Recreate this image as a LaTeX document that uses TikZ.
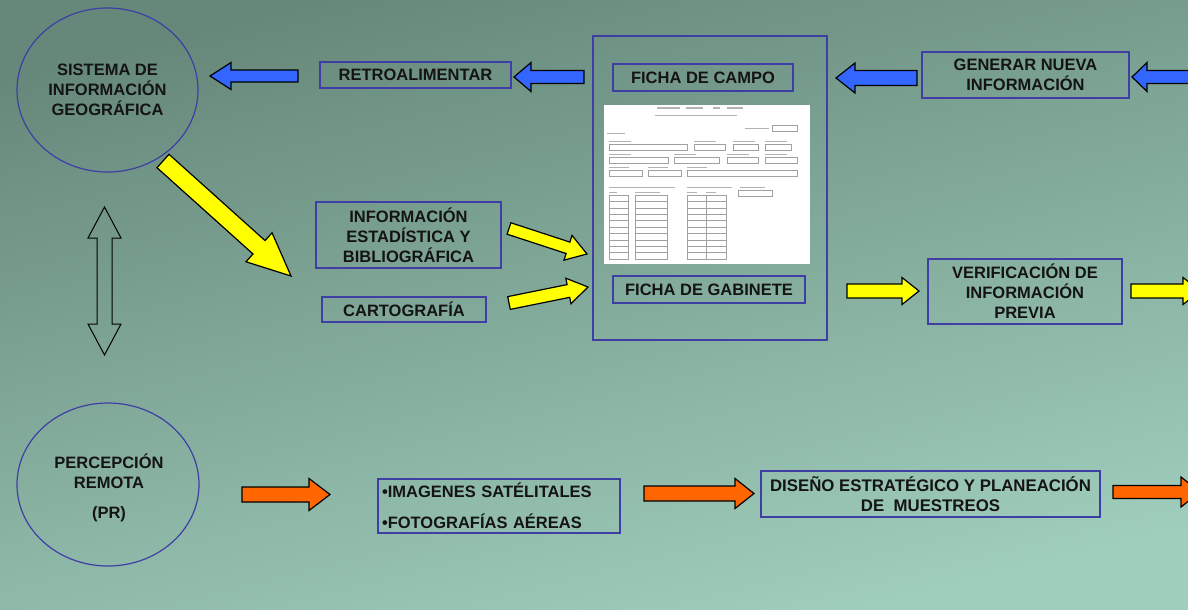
\documentclass[tikz,border=0pt]{standalone}
\usepackage{fontspec}
\setmainfont{Liberation Sans}
\usetikzlibrary{calc,shapes.geometric}
\definecolor{bgtop}{RGB}{102,136,122}
\definecolor{bgbot}{RGB}{160,206,188}
\definecolor{boxblue}{RGB}{62,62,165}
\definecolor{arrblue}{RGB}{51,102,255}
\definecolor{arryel}{RGB}{255,255,0}
\definecolor{arrora}{RGB}{255,102,0}
\definecolor{txt}{RGB}{20,20,20}
\definecolor{formline}{RGB}{160,160,160}
% #1 tail coordinate, #2 tip coordinate, #3 shaft half width, #4 head half width, #5 head length, #6 style
\newcommand\blockarrow[6]{%
  \draw[#6] let \p1=(#1), \p2=(#2), \n1={atan2(\y2-\y1,\x2-\x1)}, \n2={veclen(\x2-\x1,\y2-\y1)} in
   [shift={(\p1)}, rotate=\n1] (0,#3) -- (\n2-#5,#3) -- (\n2-#5,#4) -- (\n2,0) -- (\n2-#5,-#4) -- (\n2-#5,-#3) -- (0,-#3) -- cycle;}
\begin{document}
\begin{tikzpicture}[x=1pt,y=-1pt,
  lbl/.style={text=txt, font=\bfseries\fontsize{16.5}{20}\selectfont},
  box/.style={lbl, draw=boxblue, line width=1.4pt, inner sep=0pt, align=center},
  circ/.style={lbl, ellipse, draw=boxblue, line width=1.2pt, inner sep=0pt, align=center},
  arrbase/.style={draw=black, line width=1.2pt, line join=miter},
  bluearr/.style={arrbase, fill=arrblue},
  yelarr/.style={arrbase, fill=arryel},
  orarr/.style={arrbase, fill=arrora},
  formbox/.style={draw=formline, line width=0.5pt},
  formtext/.style={draw=formline!80, line width=1.2pt}
]
\clip (0,0) rectangle (1188,610);
\shade[top color=bgtop, bottom color=bgbot, shading angle=14] (0,0) rectangle (1188,610);

% circles
\node[circ, minimum width=181pt, minimum height=164pt] (sig) at (107.5,90) {SISTEMA DE\\INFORMACIÓN\\GEOGRÁFICA};
\node[circ, minimum width=182pt, minimum height=163pt] (pr) at (108,484.5) {};
\node[lbl, align=center] (prtext) at ($(pr.center)+(1,3)$) {PERCEPCIÓN\\REMOTA\\[10pt](PR)};

% top row boxes
\node[box, minimum width=191pt, minimum height=26pt] (retro) at (415.5,75) {RETROALIMENTAR};
\node[draw=boxblue, line width=1.4pt, minimum width=234pt, minimum height=304pt, inner sep=0pt] (ficha) at (710,188) {};
\node[box, minimum width=180pt, minimum height=27pt] (campo) at (703,77.5) {FICHA DE CAMPO};
\node[box, minimum width=192pt, minimum height=27pt] (gabinete) at (709,289.5) {FICHA DE GABINETE};
\node[box, minimum width=207pt, minimum height=46pt] (generar) at (1025.5,75) {GENERAR NUEVA\\INFORMACIÓN};
\node[box, minimum width=185pt, minimum height=66pt] (info) at (408.5,235) {INFORMACIÓN\\ESTADÍSTICA Y\\BIBLIOGRÁFICA};
\node[box, minimum width=164pt, minimum height=25pt] (carto) at (404,309.5) {CARTOGRAFÍA};
\node[box, minimum width=194pt, minimum height=65pt] (verif) at (1025,291.5) {VERIFICACIÓN DE\\INFORMACIÓN\\PREVIA};
\node[box, minimum width=242pt, minimum height=54pt, text width=234pt, align=left,
      font=\bfseries\fontsize{16.5}{31}\selectfont] (imag) at (499,506) {•IMAGENES SATÉLITALES\\•FOTOGRAFÍAS AÉREAS};
\node[box, minimum width=339pt, minimum height=46pt, font=\bfseries\fontsize{16.8}{20}\selectfont] (diseno) at (930.5,494) {DISEÑO ESTRATÉGICO Y PLANEACIÓN\\DE\ \ MUESTREOS};

% form picture
\node[fill=white, minimum width=206pt, minimum height=159pt, inner sep=0pt] (form) at (707,184.5) {};
\begin{scope}
  \foreach \a/\b in {657/680,686/703,713/720,727/743}{\draw[formtext] (\a,108) -- (\b,108);}
  \draw[formtext, line width=0.9pt] (655,115) -- (737,115);
  \draw[formtext, line width=0.7pt] (745,128) -- (769,128);
  \draw[formbox] (772,125) rectangle (797,131);
  \draw[formtext, line width=0.7pt] (607,133) -- (625,133);
  % row 1
  \foreach \a/\b in {609/687,694/725,733/758,765/791}{
    \draw[formtext, line width=0.6pt] (\a,141) -- (\a+22,141);
    \draw[formbox] (\a,144) rectangle (\b,150);}
  % row 2
  \foreach \a/\b in {609/668,674/719,727/758,765/797}{
    \draw[formtext, line width=0.6pt] (\a,154) -- (\a+22,154);
    \draw[formbox] (\a,157) rectangle (\b,163);}
  % row 3
  \foreach \a/\b in {609/642,648/681,687/797}{
    \draw[formtext, line width=0.6pt] (\a,167) -- (\a+20,167);
    \draw[formbox] (\a,170) rectangle (\b,176);}
  % table labels
  \draw[formtext, line width=0.6pt] (609,187) -- (675,187);
  \draw[formtext, line width=0.6pt] (687,187) -- (732,187);
  \draw[formtext, line width=0.6pt] (740,187) -- (765,187);
  \draw[formtext, line width=0.6pt] (609,192) -- (617,192);
  \draw[formtext, line width=0.6pt] (635,192) -- (660,192);
  \draw[formtext, line width=0.6pt] (687,192) -- (697,192);
  \draw[formtext, line width=0.6pt] (706,192) -- (716,192);
  \draw[formbox] (738,190) rectangle (772,196);
  % tables
  \foreach \a/\b in {609/628,635/667,687/706,706/726}{
    \draw[formbox] (\a,195) rectangle (\b,259);
    \foreach \r in {1,...,10}{\draw[formbox] (\a,195+\r*6.4) -- (\b,195+\r*6.4);}}
\end{scope}

% arrow end points
\coordinate (b1s) at (298,76);   \coordinate (b1e) at (210,76);
\coordinate (b2s) at (584,77);   \coordinate (b2e) at (514,77);
\coordinate (b3s) at (917,78);   \coordinate (b3e) at (836,78);
\coordinate (b4s) at (1205,77);  \coordinate (b4e) at (1132,77);
\coordinate (y1s) at (163,161);  \coordinate (y1e) at (291,276);
\coordinate (y2s) at (509,228.5);\coordinate (y2e) at (587,254);
\coordinate (y3s) at (509,303);  \coordinate (y3e) at (588,287);
\coordinate (y4s) at (847,291);  \coordinate (y4e) at (919,291);
\coordinate (y5s) at (1131,291); \coordinate (y5e) at (1200,291);
\coordinate (o1s) at (242,494.5);\coordinate (o1e) at (330,494.5);
\coordinate (o2s) at (644,493.5);\coordinate (o2e) at (754,493.5);
\coordinate (o3s) at (1113,492); \coordinate (o3e) at (1200,492);

\blockarrow{b1s}{b1e}{6}{13.5}{21}{bluearr}
\blockarrow{b2s}{b2e}{6.5}{14.5}{17}{bluearr}
\blockarrow{b3s}{b3e}{7.5}{15}{19}{bluearr}
\blockarrow{b4s}{b4e}{6.5}{14.5}{15}{bluearr}
\blockarrow{y1s}{y1e}{9}{19.5}{43}{yelarr}
\blockarrow{y2s}{y2e}{6}{13}{20}{yelarr}
\blockarrow{y3s}{y3e}{6.5}{13}{20}{yelarr}
\blockarrow{y4s}{y4e}{7}{13.5}{17}{yelarr}
\blockarrow{y5s}{y5e}{7}{13.5}{17}{yelarr}
\blockarrow{o1s}{o1e}{7.5}{16}{21}{orarr}
\blockarrow{o2s}{o2e}{7.5}{15}{19}{orarr}
\blockarrow{o3s}{o3e}{6.5}{15}{19}{orarr}

% double outline arrow between the two circles
\coordinate (dtop) at (104.5,207);
\coordinate (dbot) at (104.5,355);
\draw[black, line width=1pt, line join=miter]
  (dtop) -- ++(16.5,31) -- ++(-9,0) -- ($(dbot)+(7.5,-31)$) -- ++(9,0) -- (dbot)
  -- ++(-16.5,-31) -- ++(9,0) -- ($(dtop)+(-7.5,31)$) -- ++(-9,0) -- cycle;
\end{tikzpicture}
\end{document}
